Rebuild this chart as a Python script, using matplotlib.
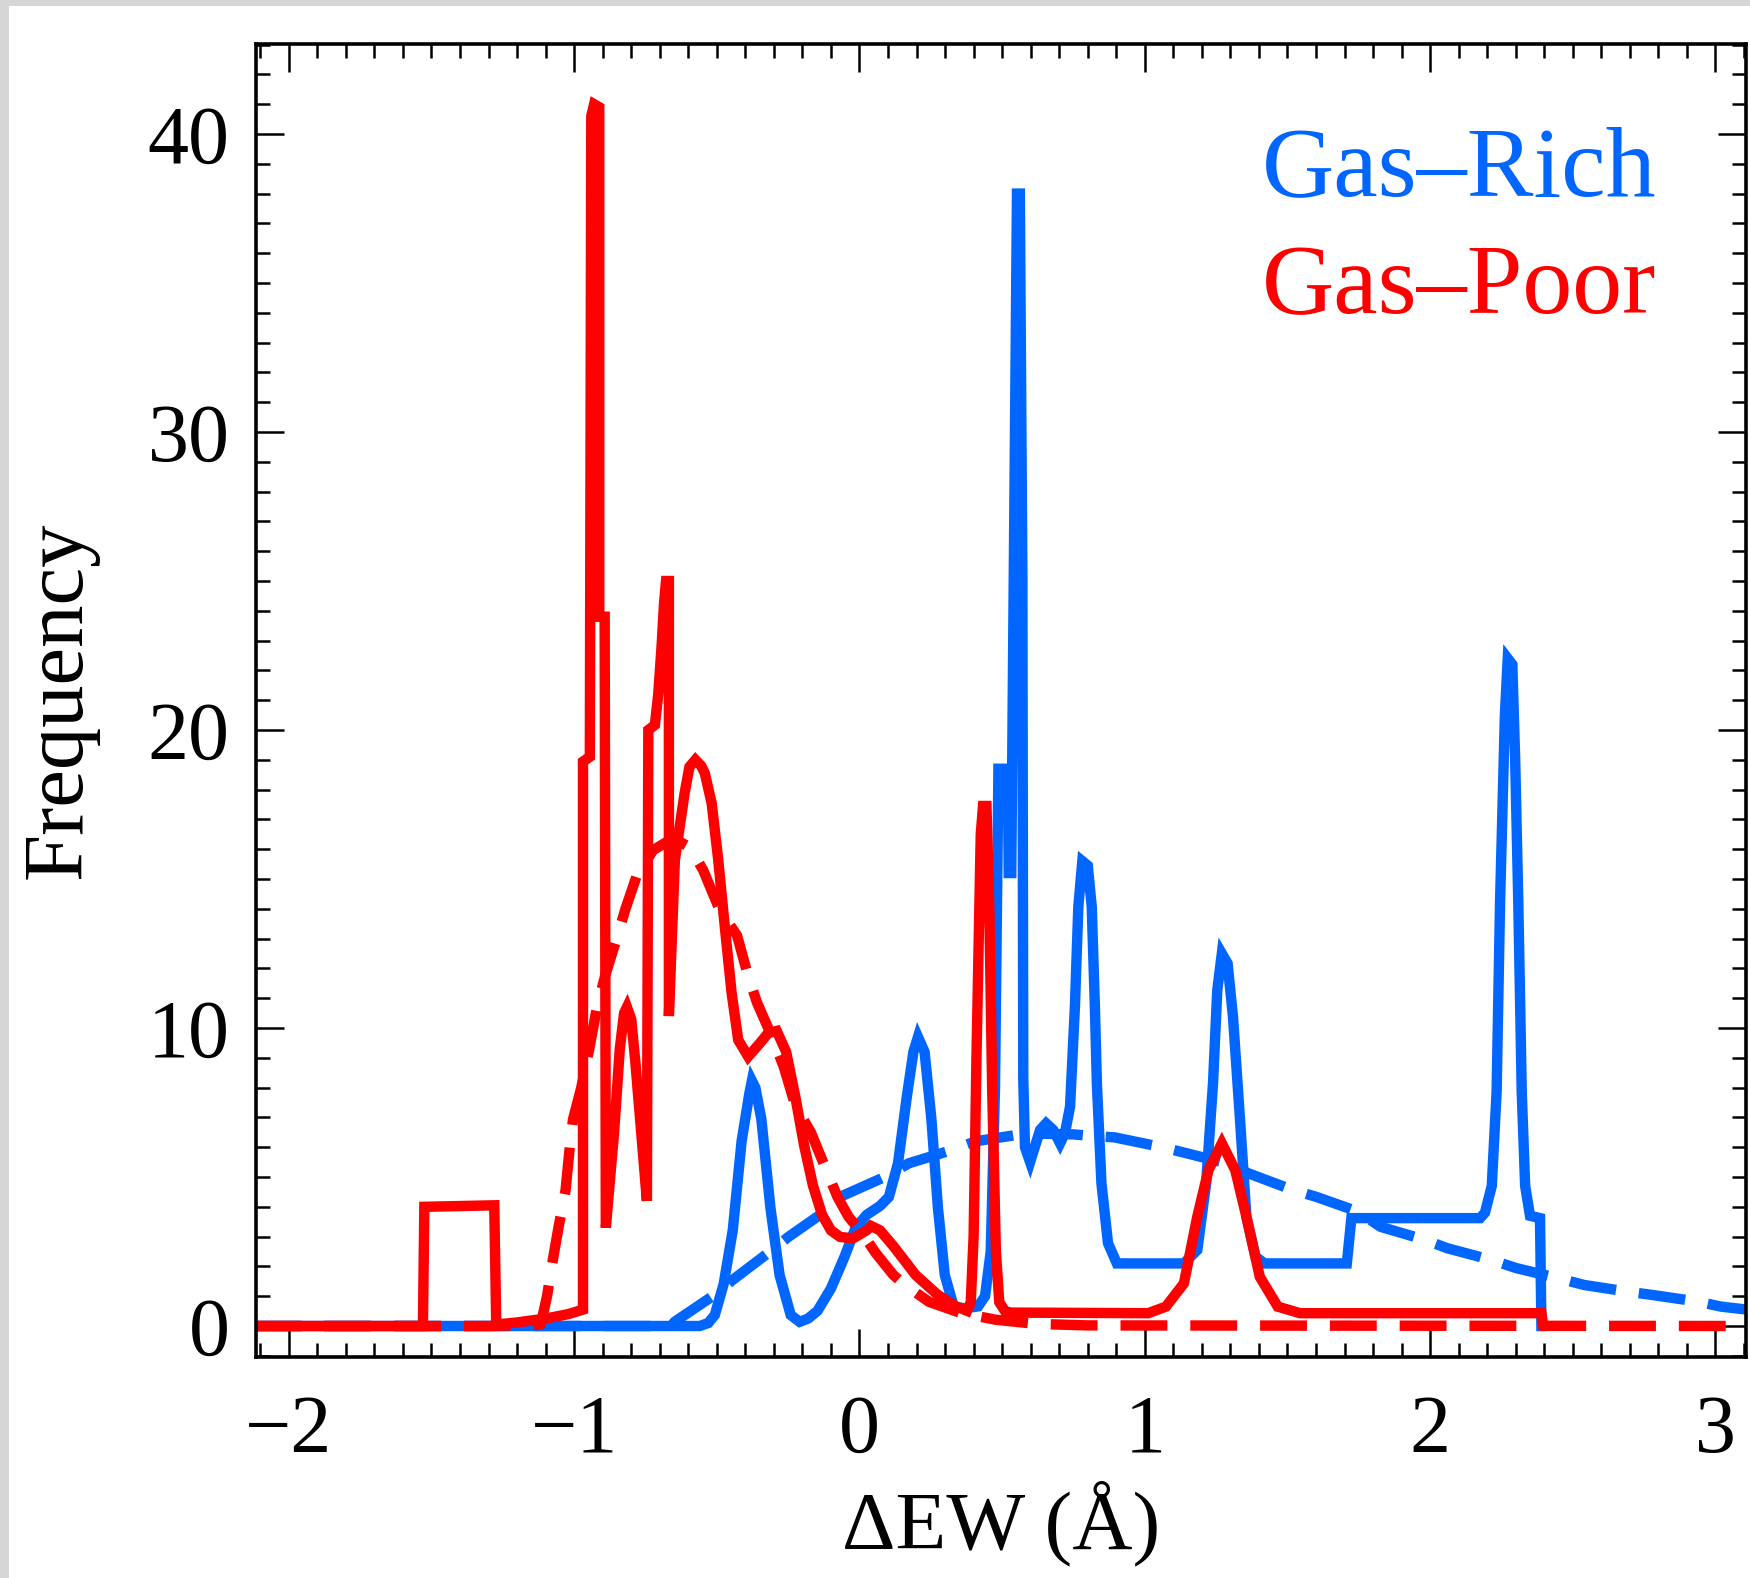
import matplotlib

matplotlib.use("Agg")
import matplotlib.pyplot as plt
from matplotlib.patches import Rectangle
from matplotlib.ticker import MultipleLocator

# Gas-rich sample: smoothed distribution and its fit
rich_x = [-2.12, -0.56, -0.53, -0.507, -0.476, -0.444, -0.413, -0.386, -0.377, -0.365,
          -0.344, -0.312, -0.28, -0.241, -0.21, -0.18, -0.147, -0.1, -0.053, -0.014,
          0.025, 0.072, 0.103, 0.135, 0.166, 0.189, 0.205, 0.228, 0.252, 0.275,
          0.299, 0.33, 0.369, 0.416, 0.44, 0.46, 0.475, 0.487, 0.52, 0.523,
          0.532, 0.552, 0.562, 0.571, 0.574, 0.58, 0.598, 0.633, 0.654, 0.679,
          0.703, 0.72, 0.738, 0.755, 0.767, 0.781, 0.80, 0.814, 0.825, 0.832,
          0.848, 0.871, 0.902, 1.137, 1.184, 1.215, 1.239, 1.254, 1.27, 1.29,
          1.309, 1.333, 1.356, 1.388, 1.419, 1.708, 1.724, 2.175, 2.192, 2.216,
          2.233, 2.245, 2.262, 2.272, 2.288, 2.298, 2.309, 2.321, 2.333, 2.35,
          2.385, 2.39]
rich_y = [0.0, 0.0, 0.1, 0.37, 1.41, 3.22, 6.21, 7.8, 8.23, 8.0,
          6.95, 3.96, 1.71, 0.37, 0.14, 0.25, 0.51, 1.26, 2.31, 3.29,
          3.73, 4.03, 4.33, 5.46, 7.7, 9.2, 9.7, 9.2, 6.95, 3.96,
          1.71, 0.66, 0.59, 0.66, 1.0, 2.5, 8.0, 18.7, 18.7, 15.2,
          15.2, 38.0, 38.0, 25.0, 8.3, 6.0, 5.5, 6.58, 6.8, 6.58,
          6.13, 6.47, 7.36, 10.71, 14.07, 15.6, 15.45, 14.07, 10.71, 8.14,
          4.79, 2.78, 2.1, 2.1, 2.55, 4.79, 8.14, 11.27, 12.5, 12.17,
          10.38, 7.02, 3.67, 2.33, 2.1, 2.1, 3.62, 3.62, 3.8, 4.7,
          7.86, 14.2, 20.5, 22.4, 22.2, 19.0, 14.2, 7.86, 4.7, 3.7,
          3.62, 0.0]

rich_fit_x = [-2.12, -0.66, -0.648, -0.515, -0.444, -0.327, -0.249, -0.116, -0.069, 0.088,
              0.173, 0.322, 0.408, 0.557, 0.65, 0.75, 0.808, 0.894, 1.051, 1.137,
              1.286, 1.364, 1.52, 1.599, 1.747, 1.826, 1.982, 2.06, 2.217, 2.303,
              2.451, 2.538, 2.694, 2.78, 2.937, 3.02, 3.12]
rich_fit_y = [0.0, 0.0, 0.14, 1.0, 1.55, 2.4, 2.99, 3.88, 4.33, 5.0,
              5.46, 5.9, 6.2, 6.42, 6.45, 6.43, 6.38, 6.33, 6.02, 5.82,
              5.46, 5.12, 4.56, 4.34, 3.84, 3.33, 2.89, 2.61, 2.21, 1.94,
              1.6, 1.38, 1.15, 1.04, 0.82, 0.65, 0.54]

# Gas-poor sample: smoothed distribution and its fit
poor_x = [-2.12, -1.53, -1.525, -1.28, -1.273, -1.2, -1.1, -1.02, -0.969, -0.969,
          -0.945, -0.94, -0.93, -0.912, -0.912, -0.893, -0.889, -0.86, -0.84, -0.825,
          -0.815, -0.80, -0.785, -0.765, -0.745, -0.740, -0.717, -0.705, -0.693, -0.685,
          -0.678, -0.668, -0.668, -0.647, -0.63, -0.613, -0.596, -0.575, -0.555, -0.542,
          -0.518, -0.495, -0.472, -0.448, -0.425, -0.39, -0.349, -0.32, -0.29, -0.257,
          -0.225, -0.194, -0.163, -0.131, -0.1, -0.068, -0.023, 0.025, 0.04, 0.072,
          0.119, 0.197, 0.275, 0.338, 0.377, 0.39, 0.40, 0.41, 0.425, 0.433,
          0.445, 0.455, 0.465, 0.478, 0.49, 0.51, 0.53, 1.012, 1.074, 1.137,
          1.184, 1.223, 1.27, 1.317, 1.356, 1.403, 1.466, 1.544, 2.39, 2.395]
poor_y = [0.0, 0.0, 4.0, 4.05, 0.05, 0.12, 0.25, 0.4, 0.55, 18.94,
          19.1, 40.6, 41.0, 40.9, 23.8, 23.8, 3.3, 6.5, 9.3, 10.5,
          10.7, 10.3, 8.8, 6.5, 4.2, 20.0, 20.17, 21.23, 22.9, 24.25,
          25.0, 25.0, 10.4, 15.64, 16.76, 17.87, 18.76, 19.0, 18.8, 18.55,
          17.54, 15.64, 13.4, 11.17, 9.6, 9.04, 9.49, 9.83, 9.9, 9.2,
          7.7, 6.06, 4.71, 3.73, 3.21, 2.99, 2.94, 3.21, 3.36, 3.21,
          2.68, 1.71, 1.04, 0.66, 0.51, 0.8, 3.0, 9.0, 16.5, 17.45,
          17.45, 14.0, 8.0, 2.5, 0.8, 0.5, 0.45, 0.43, 0.65, 1.43,
          3.67, 5.23, 6.13, 5.23, 3.67, 1.65, 0.65, 0.43, 0.43, 0.1]

poor_fit_x = [-2.12, -1.3, -1.117, -1.095, -1.075, -1.055, -1.03, -1.015, -1.004, -0.975,
              -0.945, -0.92, -0.89, -0.851, -0.82, -0.781, -0.723, -0.653, -0.594, -0.548,
              -0.491, -0.429, -0.39, -0.359, -0.304, -0.265, -0.225, -0.171, -0.116, -0.077,
              -0.038, 0.009, 0.056, 0.119, 0.166, 0.244, 0.354, 0.478, 0.62, 0.8, 3.12]
poor_fit_y = [0.0, 0.0, 0.05, 1.0, 2.2, 3.3, 4.56, 6.04, 6.93, 8.0,
              9.4, 10.7, 11.8, 13.0, 14.0, 15.1, 15.97, 16.37, 16.06, 15.3,
              13.99, 13.1, 11.74, 10.85, 9.65, 8.69, 7.4, 6.51, 5.23, 4.33,
              3.66, 3.13, 2.46, 1.71, 1.33, 0.81, 0.44, 0.21, 0.07, 0.02, 0.0]

RICH_COLOR = "#0066ff"
POOR_COLOR = "#ff0000"
LINE_WIDTH = 7.5
DASHES = (4.5, 2.2)


def main() -> None:
    plt.rcParams["font.family"] = ["Liberation Serif", "DejaVu Serif"]

    fig = plt.figure(figsize=(17.5, 15.78), dpi=100, facecolor="#d6d6d6")
    fig.patches.append(
        Rectangle((9 / 1750, 0), 1 - 9 / 1750, 1 - 6 / 1578,
                  transform=fig.transFigure, facecolor="white",
                  edgecolor="none", zorder=-10)
    )

    ax = fig.add_axes([256 / 1750, (1578 - 1357) / 1578, 1490 / 1750, 1313 / 1578])
    ax.set_facecolor("none")

    ax.plot(rich_x, rich_y, color=RICH_COLOR, linewidth=LINE_WIDTH,
            solid_joinstyle="miter")
    ax.plot(rich_fit_x, rich_fit_y, color=RICH_COLOR, linewidth=LINE_WIDTH,
            dashes=DASHES)
    ax.plot(poor_x, poor_y, color=POOR_COLOR, linewidth=LINE_WIDTH,
            solid_joinstyle="miter")
    ax.plot(poor_fit_x, poor_fit_y, color=POOR_COLOR, linewidth=LINE_WIDTH,
            dashes=DASHES)

    ax.set_xlim(-2.115, 3.107)
    ax.set_ylim(-1.04, 43.02)

    ax.xaxis.set_major_locator(MultipleLocator(1))
    ax.xaxis.set_minor_locator(MultipleLocator(0.1))
    ax.yaxis.set_major_locator(MultipleLocator(10))
    ax.yaxis.set_minor_locator(MultipleLocator(1))

    ax.tick_params(which="both", direction="in", top=True, right=True,
                   width=1.8, color="black")
    ax.tick_params(which="major", length=20)
    ax.tick_params(which="minor", length=10)
    ax.tick_params(axis="x", which="major", labelsize=59, pad=27)
    ax.tick_params(axis="y", which="major", labelsize=59, pad=19)

    for spine in ax.spines.values():
        spine.set_linewidth(2.6)

    ax.set_xlabel("ΔEW (Å)", fontsize=60, labelpad=8)
    ax.set_ylabel("Frequency", fontsize=61, labelpad=35)

    ax.text(0.675, 0.885, "Gas\u2013Rich", transform=ax.transAxes,
            fontsize=72, color=RICH_COLOR, ha="left", va="baseline")
    ax.text(0.675, 0.795, "Gas\u2013Poor", transform=ax.transAxes,
            fontsize=72, color=POOR_COLOR, ha="left", va="baseline")

    fig.savefig("out.png", dpi=100, facecolor=fig.get_facecolor())
    plt.close(fig)


if __name__ == "__main__":
    main()
